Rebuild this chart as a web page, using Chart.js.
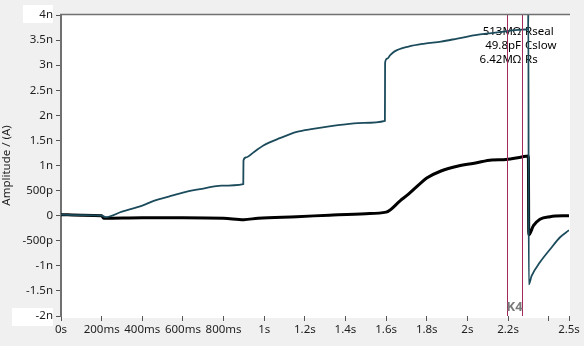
<!DOCTYPE html>
<html>
<head>
<meta charset="utf-8">
<script src="https://cdn.jsdelivr.net/npm/chart.js@4"></script>
<style>
  html, body { margin: 0; padding: 0; background: #f0f0f0; }
  #wrap { width: 584px; height: 346px; }
</style>
</head>
<body>
<div id="wrap"><canvas id="chart1" width="584" height="346"></canvas></div>
<script>
// Data (time in s, current in nA)
const tealT = [0, 0.1, 0.2, 0.22, 0.3, 0.4, 0.46, 0.53, 0.61, 0.7, 0.79, 0.897, 0.898, 0.91, 0.95, 0.996, 1.08, 1.16, 1.24, 1.32, 1.4, 1.49, 1.594, 1.595, 1.605, 1.62, 1.64, 1.71, 1.79, 1.87, 1.95, 2.04, 2.12, 2.2, 2.27, 2.299, 2.3, 2.302, 2.316, 2.357, 2.407, 2.456, 2.5];
const tealV = [0.02, 0.01, 0.0, -0.03, 0.08, 0.2, 0.3, 0.38, 0.47, 0.54, 0.6, 0.63, 1.1, 1.16, 1.27, 1.4, 1.55, 1.67, 1.73, 1.78, 1.82, 1.85, 1.89, 3.05, 3.13, 3.2, 3.27, 3.37, 3.43, 3.47, 3.53, 3.6, 3.64, 3.68, 3.71, 3.72, 4.3, -1.37, -1.2, -0.93, -0.67, -0.43, -0.29];

const blackT = [0, 0.1, 0.2, 0.21, 0.4, 0.6, 0.8, 0.9, 0.97, 1.16, 1.32, 1.5, 1.6, 1.67, 1.71, 1.77, 1.8, 1.87, 1.955, 2.04, 2.12, 2.19, 2.267, 2.3, 2.302, 2.325, 2.357, 2.407, 2.5];
const blackV = [0.02, 0.01, 0.0, -0.05, -0.04, -0.04, -0.05, -0.08, -0.05, -0.02, 0.01, 0.04, 0.07, 0.3, 0.43, 0.65, 0.75, 0.89, 0.99, 1.05, 1.11, 1.12, 1.17, 1.19, -0.38, -0.2, -0.07, -0.02, 0.0];

const xTickValues = [0, 0.2, 0.4, 0.6, 0.8, 1, 1.2, 1.4, 1.6, 1.8, 2, 2.2, 2.4, 2.5];
const xTickLabels = ['0s', '200ms', '400ms', '600ms', '800ms', '1s', '1.2s', '1.4s', '1.6s', '1.8s', '2s', '2.2s', '', '2.5s'];
const yTickValues = [-2, -1.5, -1, -0.5, 0, 0.5, 1, 1.5, 2, 2.5, 3, 3.5, 4];
const yTickLabels = ['-2n', '-1.5n', '-1n', '-500p', '0', '500p', '1n', '1.5n', '2n', '2.5n', '3n', '3.5n', '4n'];

const cursorT = [2.195, 2.269];
const cursorName = 'K4';
const infoValues = ['513M\u03A9', '49.8pF', '6.42M\u03A9'];
const infoNames = ['Rseal', 'Cslow', 'Rs'];

const FONT = 'Noto Sans';

function pts(t, v){
    return t.map((x, i) => ({x: x, y: v[i]}));
}

// background, plot frame, readout text
const frame = {
    id: 'frame',
    beforeDraw(chart){
        const c = chart.ctx, a = chart.chartArea;
        c.save();
        c.fillStyle = '#f0f0f0';
        c.fillRect(0, 0, chart.width, chart.height);
        c.fillStyle = '#ffffff';
        c.fillRect(a.left, a.top, a.right - a.left + 1, a.bottom - a.top + 2);
        // white boxes behind end labels
        c.fillRect(23, 5, 30, 18);
        c.fillRect(12, 308, 41, 18);
        c.restore();
    },
    beforeDatasetsDraw(chart){
        const c = chart.ctx, a = chart.chartArea;
        const x = chart.scales.x.getPixelForValue(cursorT[1]);
        c.save();
        c.font = '11.5px "' + FONT + '"';
        c.fillStyle = '#000';
        c.textBaseline = 'middle';
        for (let i = 0; i < infoValues.length; i++){
            const y = a.top + 17 + i * 14;
            c.textAlign = 'right';
            c.fillText(infoValues[i], x - 1, y);
            c.textAlign = 'left';
            c.fillText(infoNames[i], x + 3, y);
        }
        c.restore();
    },
    afterDatasetsDraw(chart){
        const c = chart.ctx, a = chart.chartArea, xs = chart.scales.x;
        c.save();
        c.strokeStyle = '#a3285c';
        c.lineWidth = 1;
        cursorT.forEach(t => {
            const x = Math.round(xs.getPixelForValue(t)) + 0.5;
            c.beginPath();
            c.moveTo(x, a.top);
            c.lineTo(x, a.bottom);
            c.stroke();
        });
        const mid = (xs.getPixelForValue(cursorT[0]) + xs.getPixelForValue(cursorT[1])) / 2;
        c.font = 'bold 13px "' + FONT + '"';
        c.fillStyle = '#7a7a7a';
        c.textAlign = 'center';
        c.textBaseline = 'middle';
        c.fillText(cursorName, mid, a.bottom - 9);
        // top frame line
        c.strokeStyle = '#707070';
        c.lineWidth = 1.5;
        c.beginPath();
        c.moveTo(a.left - 1, a.top - 0.5);
        c.lineTo(a.right + 1, a.top - 0.5);
        c.stroke();
        c.restore();
    }
};

const ctx1 = document.getElementById('chart1').getContext('2d');
const chart = new Chart(ctx1, {
    type: 'line',
    data: {
        datasets: [{
            label: 'trace',
            data: pts(tealT, tealV),
            borderColor: '#1c4b5c',
            borderWidth: 1.8,
            pointRadius: 0,
            cubicInterpolationMode: 'monotone'
        }, {
            label: 'average',
            data: pts(blackT, blackV),
            borderColor: '#000000',
            borderWidth: 3,
            pointRadius: 0,
            cubicInterpolationMode: 'monotone'
        }]
    },
    options: {
        responsive: false,
        animation: false,
        layout: {padding: {left: 0, right: 15, top: 15, bottom: 0}},
        plugins: {legend: {display: false}, tooltip: {enabled: false}},
        scales: {
            x: {
                type: 'linear',
                min: 0, max: 2.5,
                afterFit: s => { s.height = 30; },
                afterBuildTicks: s => { s.ticks = xTickValues.map(v => ({value: v})); },
                ticks: {
                    autoSkip: false, maxRotation: 0, padding: 2,
                    color: '#1e1e1e',
                    font: {family: FONT, size: 11.5},
                    callback: (v, i) => xTickLabels[i]
                },
                grid: {drawOnChartArea: false, drawTicks: true, tickLength: 5, color: '#555'},
                border: {display: false}
            },
            y: {
                type: 'linear',
                min: -2, max: 4,
                afterFit: s => { s.width = 61; },
                afterBuildTicks: s => { s.ticks = yTickValues.map(v => ({value: v})); },
                ticks: {
                    autoSkip: false, padding: 3,
                    color: '#1e1e1e',
                    font: {family: FONT, size: 11.5},
                    callback: (v, i) => yTickLabels[i]
                },
                title: {
                    display: true, text: 'Amplitude / (A)',
                    color: '#1e1e1e', font: {family: FONT, size: 11.5}, padding: 0
                },
                grid: {drawOnChartArea: false, drawTicks: true, tickLength: 5, color: '#555'},
                border: {display: true, color: '#707070', width: 2}
            }
        }
    },
    plugins: [frame]
});
</script>
</body>
</html>
